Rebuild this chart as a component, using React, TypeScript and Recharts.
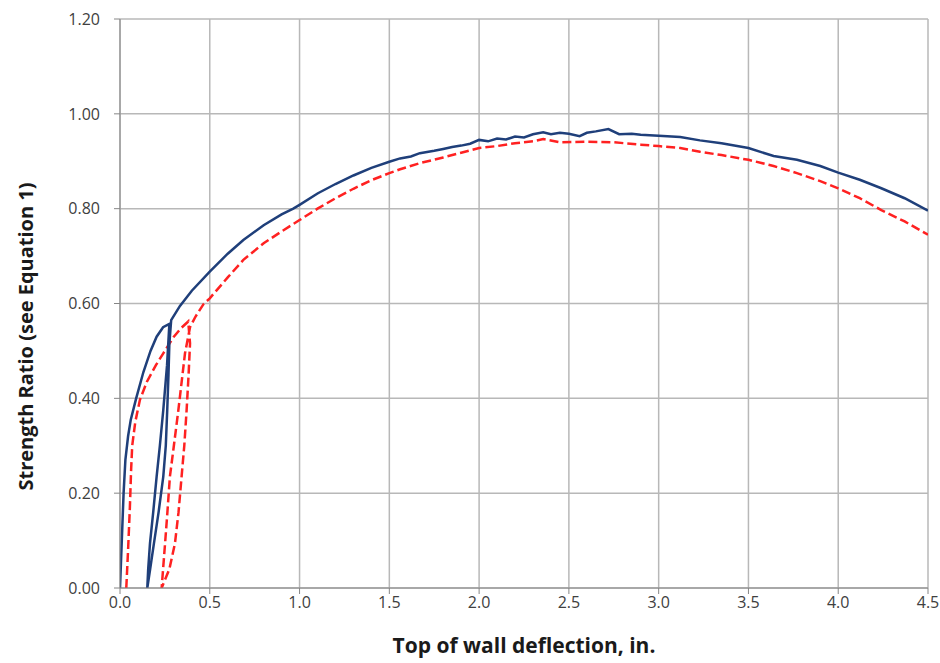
import { LineChart, Line, XAxis, YAxis, CartesianGrid, Label } from 'recharts';

// Blue (solid) test curve: initial load, unload, reload and full envelope
const blueDeflection = [
  0, 0.01, 0.02, 0.03, 0.045, 0.06, 0.09, 0.13, 0.17, 0.204, 0.24, 0.275,
  0.262, 0.241, 0.222, 0.204, 0.185, 0.167, 0.157, 0.152,
  0.168, 0.189, 0.215, 0.241, 0.255, 0.263, 0.27, 0.275, 0.285, 0.334, 0.4, 0.5, 0.6, 0.687, 0.8, 0.9,
  0.965, 1.0, 1.1, 1.2, 1.3, 1.4, 1.5, 1.56, 1.62, 1.67, 1.75, 1.8, 1.85, 1.9, 1.95, 2.0, 2.05, 2.1,
  2.15, 2.2, 2.25, 2.3, 2.357, 2.4, 2.45, 2.5, 2.56, 2.6, 2.65, 2.72, 2.78, 2.85, 2.9, 3.0, 3.12,
  3.23, 3.35, 3.5, 3.64, 3.77, 3.9, 4.0, 4.12, 4.24, 4.37, 4.5,
];
const blueRatio = [
  0, 0.1, 0.2, 0.27, 0.32, 0.355, 0.4, 0.455, 0.5, 0.53, 0.55, 0.557,
  0.47, 0.375, 0.3, 0.235, 0.16, 0.094, 0.04, 0,
  0.04, 0.094, 0.16, 0.235, 0.3, 0.375, 0.45, 0.516, 0.565, 0.595, 0.627, 0.667, 0.705, 0.734, 0.765, 0.788,
  0.8, 0.808, 0.832, 0.852, 0.87, 0.886, 0.899, 0.906, 0.91, 0.917, 0.922, 0.926, 0.93, 0.933, 0.937, 0.945, 0.942, 0.948,
  0.946, 0.952, 0.95, 0.957, 0.961, 0.957, 0.96, 0.958, 0.953, 0.96, 0.963, 0.968, 0.957, 0.958, 0.956, 0.954, 0.951,
  0.944, 0.938, 0.928, 0.911, 0.903, 0.89, 0.876, 0.861, 0.843, 0.822, 0.796,
];

// Red (dashed) curve
const redDeflection = [
  0.035, 0.045, 0.055, 0.062, 0.068, 0.085, 0.111, 0.15, 0.2, 0.241, 0.3, 0.34, 0.38,
  0.39, 0.382, 0.371, 0.358, 0.343, 0.326, 0.306, 0.275, 0.232,
  0.24, 0.251, 0.264, 0.278, 0.3, 0.325, 0.345, 0.362, 0.39, 0.42, 0.464, 0.5, 0.6, 0.687, 0.8, 0.9,
  1.0, 1.1, 1.2, 1.3, 1.4, 1.5, 1.56, 1.67, 1.8, 1.9, 2.0, 2.1, 2.2, 2.3, 2.357, 2.45, 2.6, 2.75,
  2.9, 3.0, 3.12, 3.23, 3.35, 3.5, 3.64, 3.77, 3.9, 4.0, 4.12, 4.24, 4.37, 4.5,
];
const redRatio = [
  0, 0.08, 0.17, 0.25, 0.3, 0.35, 0.397, 0.435, 0.47, 0.495, 0.53, 0.548, 0.562,
  0.516, 0.45, 0.375, 0.3, 0.235, 0.16, 0.094, 0.04, 0,
  0.04, 0.094, 0.16, 0.235, 0.3, 0.375, 0.44, 0.495, 0.55, 0.572, 0.598, 0.611, 0.655, 0.692, 0.727, 0.752,
  0.776, 0.8, 0.822, 0.842, 0.86, 0.875, 0.883, 0.896, 0.908, 0.918, 0.928, 0.932, 0.938, 0.942, 0.947, 0.94, 0.941, 0.94,
  0.935, 0.932, 0.928, 0.92, 0.913, 0.903, 0.89, 0.875, 0.858, 0.843, 0.822, 0.797, 0.773, 0.745,
];

const xTicks = [0, 0.5, 1, 1.5, 2, 2.5, 3, 3.5, 4, 4.5];
const yTicks = [0, 0.2, 0.4, 0.6, 0.8, 1.0, 1.2];

const blueData = blueDeflection.map((x, i) => ({ x, y: blueRatio[i] }));
const redData = redDeflection.map((x, i) => ({ x, y: redRatio[i] }));

const FONT = '"Open Sans", Lato, sans-serif';
const tickStyle = { fill: '#404040', fontSize: 16, fontFamily: FONT };
const titleStyle = { fill: '#1a1a1a', fontSize: 20, fontWeight: 700, fontFamily: FONT };

export default function App() {
  return (
    <div style={{ position: 'absolute', left: 0, top: 0, background: '#fff' }}>
      <LineChart width={940} height={663} margin={{ top: 19, right: 12, left: 0, bottom: 0 }}>
        <CartesianGrid stroke="#b8b8b8" strokeWidth={1.5} />
        <XAxis
          type="number"
          dataKey="x"
          domain={[0, 4.5]}
          ticks={xTicks}
          allowDataOverflow
          height={75}
          tick={tickStyle}
          tickFormatter={(v: number) => v.toFixed(1)}
          tickSize={6}
          tickMargin={3}
          stroke="#868686"
        >
          <Label
            value="Top of wall deflection, in."
            position="insideBottom"
            offset={10}
            style={{ ...titleStyle, fontSize: 21 }}
          />
        </XAxis>
        <YAxis
          type="number"
          dataKey="y"
          domain={[0, 1.2]}
          ticks={yTicks}
          allowDataOverflow
          width={120}
          tick={tickStyle}
          tickFormatter={(v: number) => v.toFixed(2)}
          tickSize={6}
          tickMargin={14}
          stroke="#868686"
        >
          <Label
            value="Strength Ratio (see Equation 1)"
            angle={-90}
            position="insideLeft"
            offset={26}
            dy={33}
            style={{ ...titleStyle, textAnchor: 'middle' }}
          />
        </YAxis>
        <Line
          data={redData}
          dataKey="y"
          type="linear"
          stroke="#ff2121"
          strokeWidth={2.5}
          strokeDasharray="9 4"
          dot={false}
          isAnimationActive={false}
        />
        <Line
          data={blueData}
          dataKey="y"
          type="linear"
          stroke="#1f3f7a"
          strokeWidth={2.5}
          dot={false}
          isAnimationActive={false}
        />
      </LineChart>
    </div>
  );
}
